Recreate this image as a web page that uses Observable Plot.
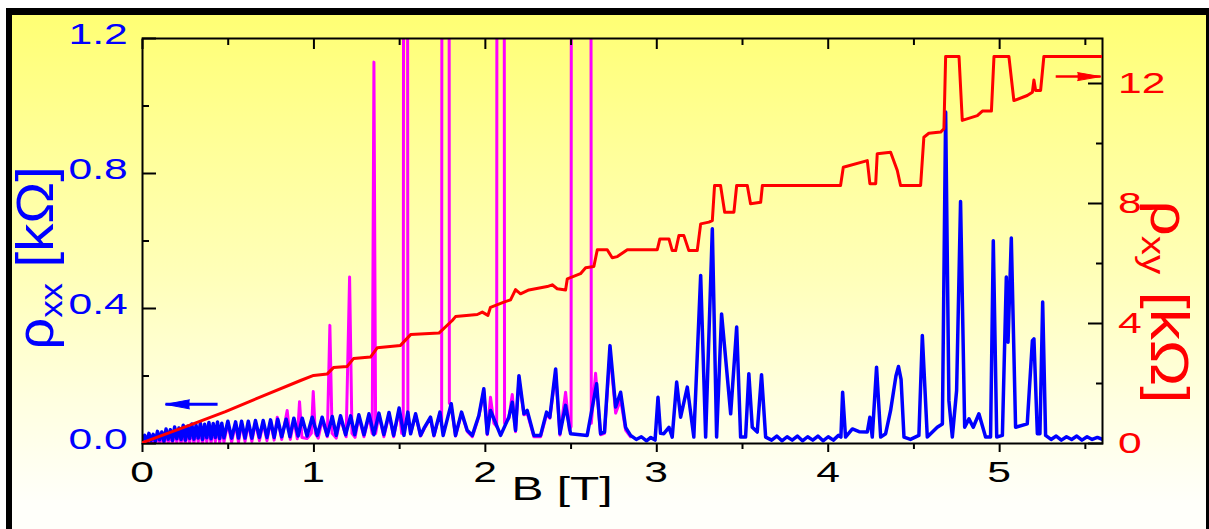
<!DOCTYPE html>
<html><head><meta charset="utf-8">
<script src="https://cdn.jsdelivr.net/npm/d3@7"></script>
<script src="https://cdn.jsdelivr.net/npm/@observablehq/plot@0.6"></script>
<style>
html,body{margin:0;padding:0;width:1209px;height:529px;overflow:hidden;background:#fff;font-family:"Liberation Sans",Arial,Helvetica,sans-serif;}
#bg{position:absolute;left:6px;top:8px;width:1203px;height:521px;box-sizing:border-box;border-top:7px solid #000;border-left:6px solid #000;border-right:3px solid #000;
background:linear-gradient(to bottom,#ffff74 0%,#ffff98 25%,#ffffb8 50%,#ffffe0 75%,#fffffa 95%);}
.layer{position:absolute;left:0;top:0;width:1209px;height:529px;}
.title{position:absolute;white-space:nowrap;line-height:1;}
.title sub{font-size:0.62em;vertical-align:baseline;position:relative;top:0.28em;}
.tick{position:absolute;white-space:nowrap;line-height:1;font-size:30px;}
</style></head><body>
<div id="bg"></div>
<div id="p1" class="layer"></div>
<div id="p2" class="layer"></div>
<div id="labels" class="layer"></div>
<div id="tl" class="title" style="left:35px;top:258px;color:#0000ff;font-size:52px;transform:translate(-50%,-50%) rotate(-90deg) scaleX(1.08);">ρ<sub>xx</sub> [kΩ]</div>
<div id="tr" class="title" style="left:1170px;top:302px;color:#ff0000;font-size:54px;transform:translate(-50%,-50%) rotate(90deg) scaleX(1.15);">ρ<sub>xy</sub> [kΩ]</div>
<div id="tb" class="title" style="left:562px;top:488px;color:#000;font-size:33px;transform:translate(-50%,-50%) scaleX(1.45);">B [T]</div>
<script>
// ---- data (B in tesla, resistivities in kΩ) ----
const xTicks = [0, 1, 2, 3, 4, 5];
const xMinor = [0.5, 1.5, 2.5, 3.5, 4.5, 5.5];
const yLeftTicks = [0, 0.4, 0.8, 1.2];
const yLeftMinor = [0.2, 0.6, 1.0];
const yRightTicks = [0, 4, 8, 12];
const yRightMinor = [2, 6, 10];

const blueXX = [
[0.0000,0.012],[0.0125,0.024],[0.0250,0.005],[0.0375,0.030],[0.0500,0.009],[0.0625,0.027],[0.0750,0.006],[0.0875,0.036],[0.1000,0.011],[0.1125,0.034],[0.1250,0.007],[0.1375,0.043],[0.1500,0.013],[0.1625,0.041],[0.1750,0.009],[0.1875,0.049],[0.2000,0.014],[0.2125,0.046],[0.2250,0.012],[0.2375,0.054],[0.2500,0.010],[0.2625,0.051],[0.2750,0.015],[0.2875,0.058],[0.3000,0.013],[0.3125,0.054],[0.3250,0.016],[0.3375,0.060],[0.3500,0.012],[0.3625,0.057],[0.3750,0.017],[0.3875,0.062],[0.4000,0.014],[0.4125,0.059],[0.4250,0.018],[0.4375,0.064],[0.4500,0.015],[0.4625,0.060],[0.4750,0.017],[0.4980,0.066],
[0.520,0.016],[0.543,0.064],[0.560,0.016],[0.578,0.066],[0.598,0.016],[0.617,0.066],[0.638,0.016],[0.659,0.068],[0.682,0.018],[0.704,0.068],[0.726,0.018],[0.747,0.070],[0.768,0.018],[0.789,0.072],[0.812,0.020],[0.838,0.072],[0.860,0.020],[0.883,0.075],[0.908,0.022],[0.932,0.075],[0.960,0.022],[0.990,0.078],[1.020,0.024],[1.048,0.078],[1.078,0.024],[1.107,0.080],[1.130,0.024],[1.155,0.082],[1.185,0.026],[1.214,0.082],[1.238,0.026],[1.262,0.085],[1.292,0.026],[1.321,0.088],[1.350,0.026],[1.379,0.090],[1.408,0.026],[1.438,0.092],[1.465,0.024],[1.497,0.105],
[1.525,0.024],[1.548,0.093],[1.564,0.029],[1.593,0.088],[1.622,0.024],[1.645,0.048],[1.680,0.078],[1.700,0.024],[1.735,0.093],[1.754,0.024],[1.801,0.118],[1.826,0.024],[1.861,0.093],[1.894,0.039],[1.924,0.024],[1.962,0.083],[1.991,0.162],[2.011,0.029],[2.030,0.098],[2.089,0.024],[2.137,0.078],[2.157,0.122],[2.176,0.039],[2.196,0.201],[2.225,0.088],[2.244,0.098],[2.283,0.024],[2.322,0.024],[2.357,0.093],[2.376,0.078],[2.410,0.221],[2.435,0.029],[2.468,0.113],[2.497,0.029],[2.594,0.024],[2.649,0.177],[2.672,0.029],[2.695,0.034],[2.727,0.290],[2.760,0.108],[2.789,0.152],[2.818,0.048],[2.847,0.024],[2.880,0.012],[2.910,0.020],[2.940,0.008],[2.965,0.018],[2.990,0.010],[3.007,0.137],[3.022,0.030],[3.041,0.029],[3.071,0.048],[3.090,0.019],[3.116,0.182],[3.139,0.078],[3.178,0.167],[3.216,0.019],[3.256,0.498],[3.285,0.019],[3.324,0.636],[3.349,0.019],[3.378,0.384],[3.431,0.088],[3.466,0.345],[3.489,0.019],[3.518,0.019],[3.537,0.207],[3.557,0.048],[3.586,0.034],[3.611,0.204],[3.635,0.019],[3.670,0.010],[3.700,0.022],[3.730,0.008],[3.760,0.020],[3.790,0.010],[3.820,0.022],[3.850,0.008],[3.880,0.020],[3.910,0.010],[3.940,0.022],[3.970,0.008],[4.000,0.020],[4.030,0.010],[4.060,0.024],[4.074,0.019],[4.084,0.152],[4.101,0.019],[4.141,0.043],[4.180,0.035],[4.228,0.034],[4.243,0.078],[4.257,0.019],[4.282,0.226],[4.306,0.019],[4.335,0.029],[4.364,0.098],[4.395,0.200],[4.410,0.228],[4.425,0.190],[4.442,0.019],[4.480,0.012],[4.529,0.024],[4.549,0.320],[4.578,0.019],[4.636,0.048],[4.666,0.058],[4.685,0.982],[4.704,0.127],[4.724,0.019],[4.749,0.157],[4.772,0.717],[4.796,0.048],[4.821,0.073],[4.846,0.048],[4.879,0.088],[4.918,0.019],[4.947,0.019],[4.963,0.601],[4.983,0.019],[5.016,0.024],[5.039,0.493],[5.049,0.300],[5.068,0.609],[5.093,0.048],[5.161,0.058],[5.191,0.305],[5.200,0.310],[5.220,0.029],[5.235,0.029],[5.251,0.419],[5.268,0.024],[5.300,0.012],[5.330,0.022],[5.360,0.010],[5.390,0.020],[5.420,0.012],[5.450,0.022],[5.480,0.010],[5.510,0.020],[5.540,0.012],[5.570,0.018],[5.600,0.012]
];

const magentaXX = [
[0.0000,0.004],[0.0125,0.018],[0.0250,-0.006],[0.0375,0.024],[0.0500,-0.002],[0.0625,0.022],[0.0750,-0.006],[0.0875,0.030],[0.1000,0.000],[0.1125,0.028],[0.1250,-0.005],[0.1375,0.036],[0.1500,0.002],[0.1625,0.034],[0.1750,-0.004],[0.1875,0.042],[0.2000,0.003],[0.2125,0.040],[0.2250,-0.002],[0.2375,0.046],[0.2500,-0.004],[0.2625,0.044],[0.2750,0.003],[0.2875,0.050],[0.3000,0.000],[0.3125,0.047],[0.3250,0.004],[0.3375,0.052],[0.3500,-0.002],[0.3625,0.050],[0.3750,0.004],[0.3875,0.054],[0.4000,0.000],[0.4125,0.052],[0.4250,0.005],[0.4375,0.056],[0.4500,0.002],[0.4625,0.053],[0.4750,0.004],[0.4980,0.060],
[0.520,0.004],[0.543,0.058],[0.560,0.004],[0.578,0.060],[0.598,0.006],[0.617,0.060],[0.638,0.006],[0.659,0.062],[0.682,0.008],[0.704,0.062],[0.726,0.008],[0.747,0.065],[0.768,0.010],[0.786,0.078],[0.812,0.012],[0.844,0.098],[0.862,0.012],[0.883,0.070],[0.903,0.014],[0.916,0.124],[0.930,0.018],[0.960,0.015],[0.985,0.030],[0.996,0.154],[1.008,0.030],[1.025,0.016],[1.048,0.070],[1.078,0.020],[1.093,0.350],[1.106,0.030],[1.130,0.016],[1.155,0.075],[1.188,0.020],[1.208,0.493],[1.222,0.030],[1.240,0.018],[1.262,0.078],[1.292,0.020],[1.321,0.080],[1.340,0.030],[1.350,1.130],[1.360,0.030],[1.379,0.085],[1.408,0.020],[1.438,0.085],[1.465,0.020],[1.497,0.100],[1.512,0.030],[1.521,0.060],[1.525,3.0],[1.544,3.0],[1.548,0.090],[1.564,0.030],[1.593,0.085],[1.622,0.022],[1.645,0.045],[1.680,0.075],[1.700,0.022],[1.735,0.090],[1.745,0.060],[1.748,3.0],[1.787,3.0],[1.790,0.120],[1.801,0.110],[1.826,0.022],[1.861,0.090],[1.894,0.036],[1.924,0.020],[1.962,0.080],[1.991,0.155],[2.011,0.026],[2.030,0.137],[2.050,0.060],[2.066,0.050],[2.069,3.0],[2.108,3.0],[2.112,0.060],[2.137,0.075],[2.157,0.145],[2.176,0.035],[2.196,0.190],[2.225,0.085],[2.244,0.090],[2.283,0.020],[2.322,0.020],[2.357,0.085],[2.376,0.075],[2.410,0.210],[2.435,0.025],[2.468,0.152],[2.490,0.040],[2.500,0.050],[2.503,3.0],[2.614,3.0],[2.618,0.060],[2.643,0.208],[2.672,0.026],[2.695,0.030],[2.727,0.270],[2.760,0.090],[2.789,0.130],[2.818,0.040],[2.847,0.020]
];

const redXY = [
[0.000,0.03],[0.280,0.62],[0.484,1.06],[0.700,1.58],[0.922,2.10],[0.998,2.27],[1.078,2.32],[1.114,2.53],[1.194,2.57],[1.231,2.83],[1.330,2.88],[1.369,3.19],[1.505,3.27],[1.564,3.63],[1.729,3.68],[1.807,4.10],[1.826,4.23],[1.953,4.30],[1.982,4.38],[2.015,4.27],[2.030,4.54],[2.108,4.71],[2.147,4.79],[2.176,5.13],[2.205,4.99],[2.254,5.12],[2.361,5.23],[2.390,5.29],[2.419,5.16],[2.468,5.12],[2.478,5.49],[2.555,5.66],[2.585,5.86],[2.633,5.90],[2.653,6.46],[2.711,6.46],[2.740,6.19],[2.770,6.23],[2.828,6.46],[3.003,6.46],[3.018,6.82],[3.071,6.82],[3.090,6.43],[3.110,6.43],[3.129,6.93],[3.158,6.93],[3.187,6.43],[3.236,6.43],[3.256,7.32],[3.304,7.38],[3.324,7.43],[3.337,8.60],[3.372,8.60],[3.396,7.71],[3.450,7.71],[3.466,8.60],[3.528,8.60],[3.547,7.99],[3.606,8.04],[3.616,8.60],[4.072,8.60],[4.088,9.21],[4.228,9.43],[4.243,8.66],[4.277,8.66],[4.286,9.66],[4.364,9.71],[4.403,9.10],[4.422,8.60],[4.539,8.60],[4.558,10.21],[4.587,10.34],[4.656,10.38],[4.675,10.49],[4.685,12.90],[4.763,12.90],[4.782,10.77],[4.870,10.93],[4.899,11.08],[4.952,11.08],[4.967,12.90],[5.054,12.90],[5.083,11.43],[5.161,11.60],[5.191,11.71],[5.200,12.12],[5.210,11.77],[5.239,11.77],[5.258,12.90],[5.600,12.90]
];

const blueArrow = [{from: 0.438, to: 0.134, at: 0.116}];
const redArrow = [{from: 5.327, to: 5.589, at: 12.23}];

// ---- layout ----
const W = 1209, H = 529;
const M = {marginLeft: 142, marginRight: 107, marginTop: 38, marginBottom: 86};
const FONT = '"Liberation Sans", Arial, Helvetica, sans-serif';
const blank = () => "";
const STYLE = {background: "transparent", fontFamily: FONT, overflow: "visible"};
const B = d => d[0], R = d => d[1];
const tk = {tickFormat: blank, label: null, strokeWidth: 2, stroke: "#000"};

const p1 = Plot.plot({
  width: W, height: H, ...M, style: STYLE,
  x: {domain: [0, 5.6]},
  y: {domain: [0, 1.2]},
  marks: [
    Plot.line(magentaXX, {x: B, y: R, stroke: "#ff00ff", strokeWidth: 3, clip: true}),
    Plot.line(blueXX, {x: B, y: R, stroke: "#0000ff", strokeWidth: 3.5, clip: true}),
    Plot.link(blueArrow, {x1: "from", x2: "to", y1: "at", y2: "at", stroke: "#0000ff", strokeWidth: 3}),
    Plot.vector(blueArrow, {x: "to", y: "at", length: 24, rotate: -90, anchor: "end", shape: "spike", r: 4.5, fill: "#0000ff", stroke: "#0000ff", strokeWidth: 1}),
    Plot.frame({stroke: "#000", strokeWidth: 2}),
    Plot.axisY(yLeftTicks, {anchor: "left", tickSize: -14, ...tk}),
    Plot.axisY(yLeftMinor, {anchor: "left", tickSize: -7, ...tk}),
    Plot.axisX(xTicks, {anchor: "bottom", tickSize: 9, ...tk}),
    Plot.axisX(xMinor, {anchor: "bottom", tickSize: 6, ...tk}),
    Plot.axisX(xTicks, {anchor: "top", tickSize: -10, ...tk}),
    Plot.axisX(xMinor, {anchor: "top", tickSize: -6, ...tk})
  ]
});

const p2 = Plot.plot({
  width: W, height: H, ...M, style: STYLE,
  x: {domain: [0, 5.6], axis: null},
  y: {domain: [0, 13.5]},
  marks: [
    Plot.line(redXY, {x: B, y: R, stroke: "#ff0000", strokeWidth: 3, clip: true}),
    Plot.link(redArrow, {x1: "from", x2: "to", y1: "at", y2: "at", stroke: "#ff0000", strokeWidth: 2.5}),
    Plot.vector(redArrow, {x: "to", y: "at", length: 23, rotate: 90, anchor: "end", shape: "spike", r: 4, fill: "#ff0000", stroke: "#ff0000", strokeWidth: 1}),
    Plot.axisY(yRightTicks, {anchor: "right", tickSize: -15, ...tk}),
    Plot.axisY(yRightMinor, {anchor: "right", tickSize: -7, ...tk})
  ]
});

document.getElementById("p1").appendChild(p1);
document.getElementById("p2").appendChild(p2);

// ---- tick labels positioned with the plots' own scales (horizontally stretched like the original) ----
const sx = p1.scale("x"), syL = p1.scale("y"), syR = p2.scale("y");
const labels = document.getElementById("labels");
const STRETCH = 1.42;
function addLabel(text, color, css, origin) {
  const d = document.createElement("div");
  d.className = "tick";
  d.textContent = text;
  d.style.color = color;
  Object.assign(d.style, css);
  d.style.transformOrigin = origin;
  labels.appendChild(d);
}
const fmt1 = d3.format(".1f");
yLeftTicks.forEach(v => addLabel(fmt1(v), "#0000ff",
  {right: (W - (M.marginLeft - 14)) + "px", top: (syL.apply(v) - 4) + "px", transform: `translateY(-50%) scaleX(${STRETCH})`}, "right center"));
yRightTicks.forEach(v => addLabel(String(v), "#ff0000",
  {left: (W - M.marginRight + 16) + "px", top: syR.apply(v) + "px", transform: `translateY(-50%) scaleX(${STRETCH})`}, "left center"));
xTicks.forEach(v => addLabel(String(v), "#000",
  {left: sx.apply(v) + "px", top: (H - M.marginBottom + 14) + "px", transform: `translateX(-50%) scaleX(${STRETCH})`}, "center top"));
</script>
</body></html>
